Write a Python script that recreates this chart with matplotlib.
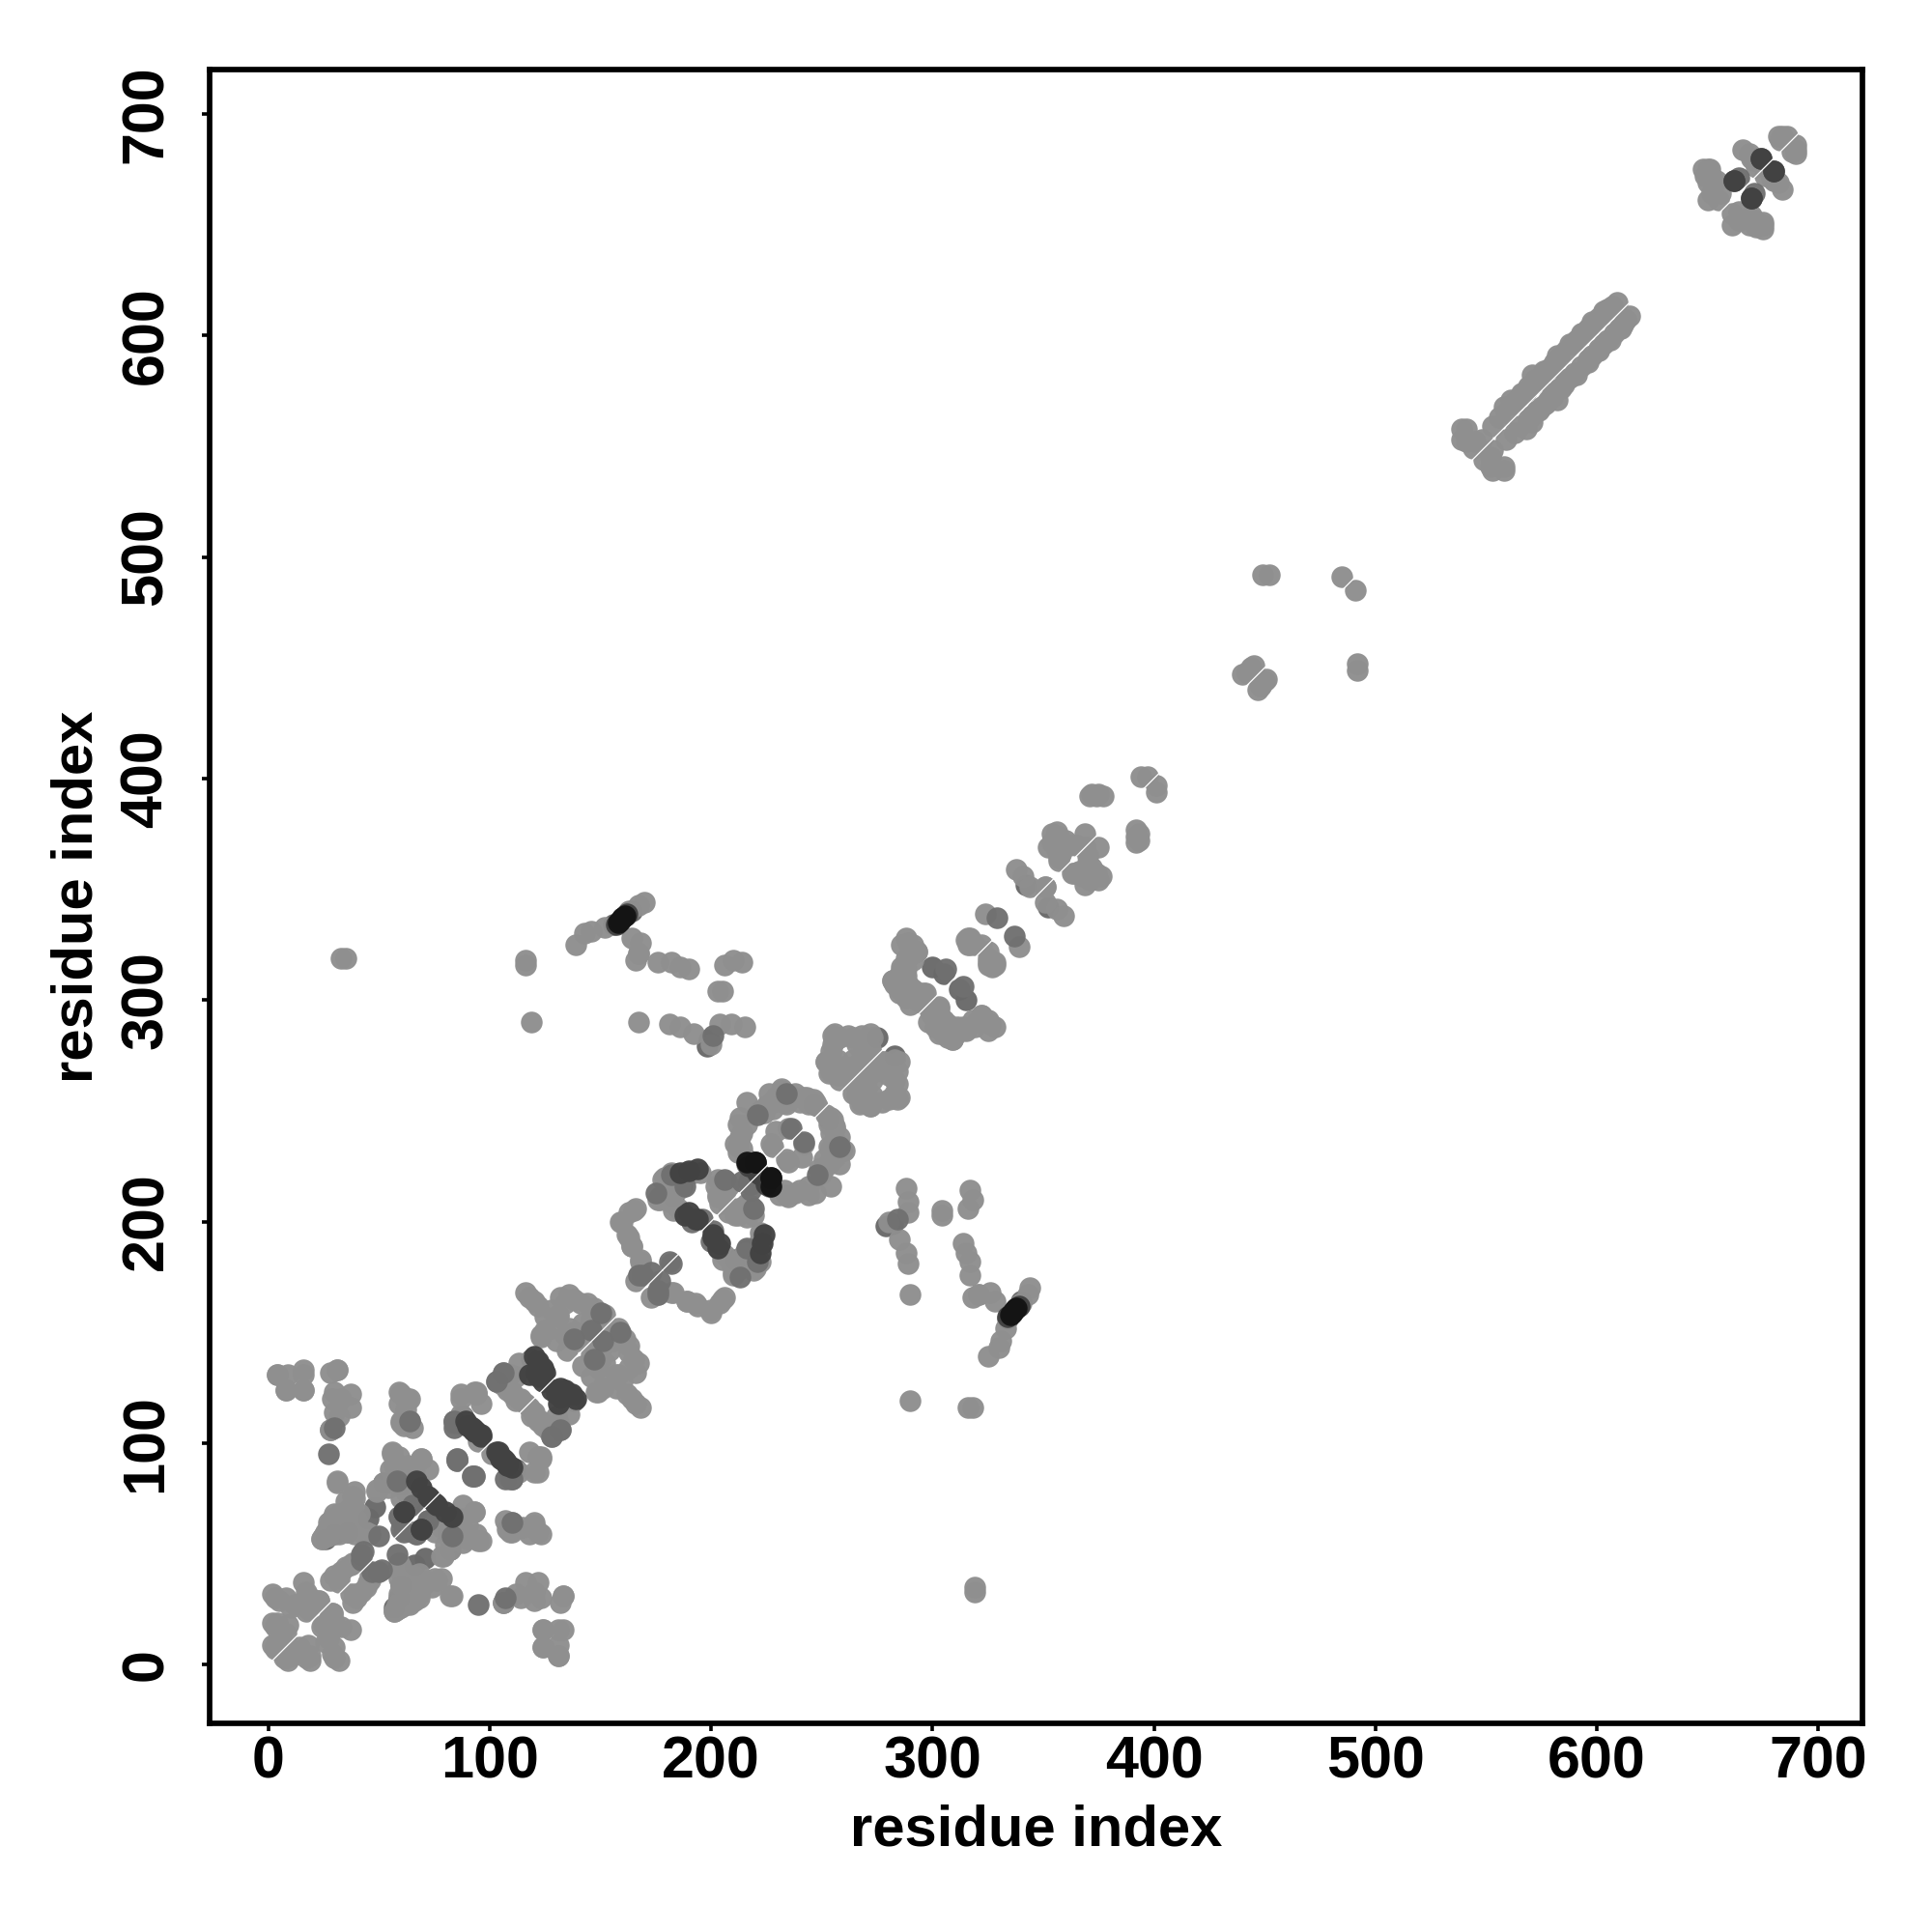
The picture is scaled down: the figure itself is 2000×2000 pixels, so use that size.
import numpy as np
import matplotlib
matplotlib.use("Agg")
import matplotlib.pyplot as plt

# Contacts as (residue i, residue j), i < j; the map is symmetric.
under_i = [28,84,119,122,124,275,300,305,342,156,161,164,199,198,246,201,217,220,183,187,65,60,109,112,57,59,36,45,48,52]
under_j = [106,110,138,135,133,283,315,312,352,334,338,340,282,279,253,193,226,222,211,216,72,81,85,88,26,30,60,66,71,82]

grey_i = [2,3,5,8,12,16,17,19,21,18,15,2,3,2,3,8,14,19,17,10,22,23,9,4,9,16,8,16,31,28,30,33,37,32,
          59,64,60,64,59,56,59,69,63,49,31,39,38,30,40,27,24,25,32,39,46,60,65,59,38,32,37,31,41,39,49,56,64,69,
          87,93,85,92,113,123,120,109,95,60,61,62,65,63,60,28,30,37,31,29,16,16,8,4,
          106,113,122,120,103,107,110,114,106,112,118,94,
          116,120,125,132,136,144,131,123,134,144,149,149,136,123,131,
          166,163,159,162,164,168,167,166,168,168,164,163,160,165,
          178,176,183,185,182,190,186,203,207,205,208,204,207,177,181,184,179,
          216,212,216,211,216,212,225,232,228,237,242,247,243,232,228,234,235,229,227,228,
          256,252,264,272,257,252,257,264,269,255,258,253,254,273,
          288,287,293,286,282,285,293,290,288,294,287,282,286,288,293,
          316,317,315,317,319,322,325,324,316,
          338,341,351,344,357,354,352,358,362,369,369,357,363,356,372,375,371,374,377,394,397,
          449,452,485,440,444,442,
          541,541,545,553,558,561,571,572,569,580,582,593,603,609,588,598,566,576,544,539,539,548,
          648,651,654,650,655,650,653,651,650,669,670,682,684,686,672,
          170,167,163,164,167,166,176,182,186,190,206,210,214,203,205,167,181,186,192,200,204,209,215,
          139,143,146,152,116,116,119,33,35,167,168,
          ]
grey_j = [32,30,29,30,27,37,33,30,29,25,28,19,17,9,7,3,8,4,24,26,28,29,18,131,131,133,124,124,133,132,123,120,116,112,
          123,120,110,110,118,96,94,93,90,79,83,78,71,68,65,64,57,58,59,59,59,66,60,67,46,39,32,82,68,75,78,95,83,93,
          122,123,93,85,87,94,87,84,101,109,108,115,107,120,122,106,114,122,133,120,124,131,124,131,
          132,136,136,133,128,126,123,120,126,119,116,122,
          168,164,157,166,167,163,158,149,149,151,159,144,149,148,157,
          206,204,200,194,189,183,176,173,176,182,189,193,200,205,
          219,210,213,206,222,222,220,219,215,213,204,212,218,210,215,219,220,
          254,244,244,235,228,234,252,260,254,256,256,254,256,259,251,253,242,241,235,234,
          285,272,283,285,273,272,266,273,277,284,264,267,272,283,
          328,315,322,315,309,305,302,298,311,303,313,309,313,319,322,
          325,328,327,326,325,325,317,339,328,
          359,356,351,351,374,375,369,370,370,375,369,364,357,376,393,393,392,392,392,401,401,
          492,492,491,447,450,448,
          558,552,552,559,568,571,582,580,577,586,591,601,611,615,596,606,573,584,549,553,558,553,
          675,675,670,661,661,675,669,672,669,682,680,690,690,690,676,
          344,343,340,328,321,318,317,317,315,314,316,318,317,304,304,290,289,288,285,280,289,289,288,
          325,330,331,333,318,316,290,319,319,321,326]

# Second pass over the crowded blobs and the helix bands that touch the diagonal.
fill_i = [20,23,4,6,25,26,27,28,29,30,32,34,36,24,27,42,44,33,36,38,35,38,28,30,33,35,37,40,52,54,56,62,60,64,
          55,57,60,63,66,72,105,108,110,113,109,112,94,96,118,122,128,134,138,141,147,146,142,138,128,125,130,136,140,
          143,152,146,141,145,150,135,180,184,186,179,177,181,183,187,202,205,203,208,212,211,192,195,
          214,213,212,222,224,226,229,233,240,244,248,226,231,238,246,214,213,254,255,258,262,266,268,254,256,260,
          262,265,270,272,264,268,272,260,284,283,285,288,289,291,288,290,291,293,296,295,297,286,289,291,
          354,356,360,355,358,365,
          556,559,562,564,566,568,571,574,576,578,581,583,586,589,591,594,596,598,601,603,605,607,
          649,652,656,652,666,671,683,442,445]
fill_j = [27,29,10,12,58,60,62,64,66,64,68,66,70,57,58,60,60,62,60,63,74,76,38,40,42,44,45,46,82,80,82,78,75,75,
          88,90,87,87,88,88,127,124,122,120,131,130,122,118,166,162,160,163,165,163,161,156,154,150,152,151,146,152,146,
          150,158,152,148,151,156,142,220,218,215,213,211,209,205,204,216,218,212,216,206,203,222,222,
          240,238,231,250,249,258,256,254,254,253,252,253,257,258,255,233,247,277,280,283,284,280,284,268,269,270,
          267,270,275,278,270,274,277,266,310,307,303,301,307,305,314,320,325,300,303,299,303,325,326,318,
          371,368,372,372,366,370,
          563,565,569,571,574,575,578,580,583,585,588,590,593,596,598,601,603,605,608,610,612,613,
          672,671,664,664,684,679,688,448,451]

mid_i = [30,27,58,64,59,50,42,47,51,65,61,84,85,92,107,122,103,106,146,150,138,167,
         181,177,176,206,284,214,234,236,221,306,329,664,188,182,175,200,201,219,218,221,216]
mid_j = [107,95,83,110,67,58,50,42,43,72,60,110,93,85,84,130,128,132,151,159,147,176,
         182,173,169,219,201,218,258,242,248,314,337,671,216,221,213,191,196,223,217,222,226]

dark_i = [69,67,61,69,72,73,89,91,93,96,92,94,103,105,108,106,120,122,125,128,131,124,130,132,
          190,186,194,188,190,193,201,221,225,670,662,674,680,157,162]
dark_j = [80,83,69,61,76,75,110,108,106,104,107,105,96,93,90,92,139,137,132,124,118,134,124,121,
          223,222,224,203,204,201,194,222,217,662,670,680,674,334,339]

black_i = [158,159,160,161,216,220,227]
black_j = [335,336,337,338,227,227,220]

shade_under = 105
shade_grey = 143
shade_mid = 112
shade_dark = 66
shade_black = 20
tick_values = [0, 100, 200, 300, 400, 500, 600, 700]
axis_label = "residue index"

plt.rcParams["font.family"] = ["Liberation Sans", "DejaVu Sans"]
plt.rcParams["font.weight"] = "bold"

fig = plt.figure(figsize=(20, 20), dpi=100)
ax = fig.add_axes([217 / 2000, 1 - 1784 / 2000, (1928 - 217) / 2000, (1784 - 72) / 2000])

layers = [(under_i, under_j, shade_under), (grey_i + fill_i, grey_j + fill_j, shade_grey),
          (mid_i, mid_j, shade_mid), (dark_i, dark_j, shade_dark), (black_i, black_j, shade_black)]
for a, b, level in layers:
    a, b = np.asarray(a), np.asarray(b)
    c = str(level / 255)
    ax.scatter(np.r_[a, b], np.r_[b, a], s=262, c=c, linewidths=0, alpha=0.97, zorder=1.5)

ax.axline((0, 0), slope=1, color="white", lw=0.9, zorder=1.8)

ax.set_xlim(-26.5, 720)
ax.set_ylim(-26.5, 720)
ax.set_xticks(tick_values)
ax.set_yticks(tick_values)
ax.tick_params(axis="x", labelsize=44, width=2.6, length=6, pad=3)
ax.tick_params(axis="y", labelsize=44, width=2.6, length=6, pad=20)
for t in ax.get_yticklabels():
    t.set_rotation(90)
    t.set_va("center")
ax.set_xlabel(axis_label, fontsize=43, fontweight="bold", labelpad=10)
ax.set_ylabel(axis_label, fontsize=43, fontweight="bold", labelpad=12)
for s in ax.spines.values():
    s.set_linewidth(4.1)

fig.savefig("out.png", dpi=100, facecolor="white")
